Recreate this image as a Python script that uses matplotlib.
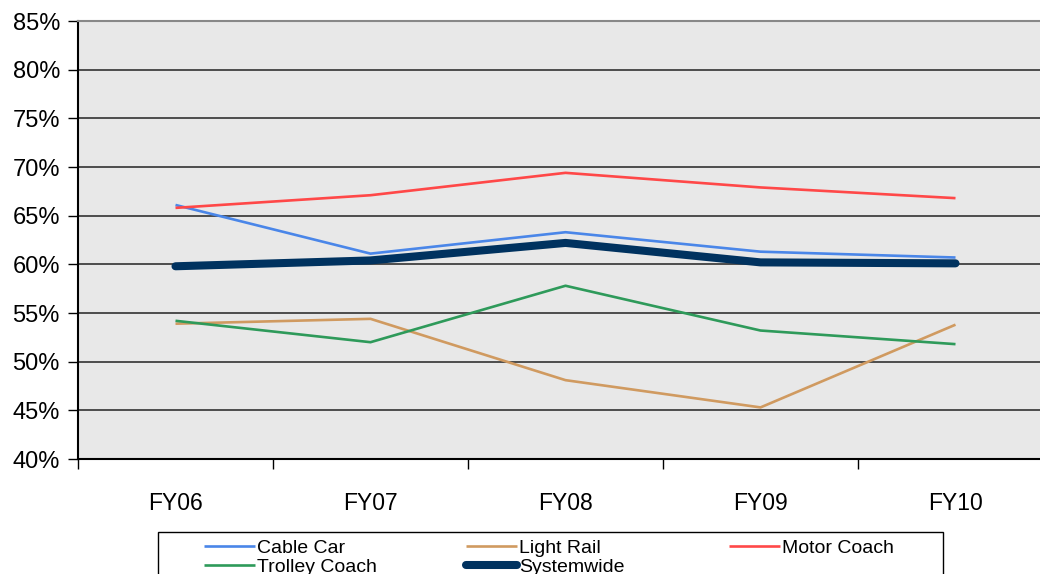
import matplotlib
matplotlib.use("Agg")
import matplotlib.pyplot as plt
from matplotlib import font_manager
from matplotlib.patches import Rectangle

categories = ["FY06", "FY07", "FY08", "FY09", "FY10"]
cable_car = [66.1, 61.1, 63.3, 61.3, 60.7]
light_rail = [53.9, 54.4, 48.1, 45.3, 53.8]
motor_coach = [65.8, 67.1, 69.4, 67.9, 66.8]
trolley_coach = [54.2, 52.0, 57.8, 53.2, 51.8]
systemwide = [59.8, 60.4, 62.2, 60.2, 60.1]
yticks = [40, 45, 50, 55, 60, 65, 70, 75, 80, 85]

names = {f.name for f in font_manager.fontManager.ttflist}
main_font = "Liberation Sans" if "Liberation Sans" in names else "DejaVu Sans"
leg_font = "Liberation Sans Narrow" if "Liberation Sans Narrow" in names else main_font
plt.rcParams["font.family"] = [main_font, "DejaVu Sans"]

fig = plt.figure(figsize=(10.4, 5.74), dpi=100)
ax = fig.add_axes([78/1040, 1-459/574, 975/1040, 438/574])
ax.set_facecolor("#E8E8E8")

x = list(range(len(categories)))
series = [
    ("Cable Car", cable_car, "#4A86E8", 1.9),
    ("Light Rail", light_rail, "#D09A60", 1.9),
    ("Motor Coach", motor_coach, "#FF4848", 1.9),
    ("Trolley Coach", trolley_coach, "#2E9A5A", 1.9),
    ("Systemwide", systemwide, "#00325F", 5.8),
]
handles = {}
for name, vals, col, lw in series:
    h, = ax.plot(x, vals, color=col, lw=lw, solid_capstyle="round" if lw > 3 else "butt",
                 solid_joinstyle="round", label=name, zorder=3)
    handles[name] = h

ax.set_xlim(-0.5, len(categories) - 0.5)
ax.set_ylim(40, 85)
ax.set_yticks(yticks)
ax.set_yticklabels([f"{v}%" for v in yticks], fontsize=17)
ax.yaxis.grid(True, color="#222222", lw=1.1)
ax.set_axisbelow(True)

ax.set_xticks(x)
ax.set_xticklabels(categories, fontsize=16.5)
ax.set_xticks([i - 0.5 for i in range(len(categories) + 1)], minor=True)
ax.tick_params(axis="x", which="major", length=0, pad=24)
ax.tick_params(axis="x", which="minor", length=7, width=1, color="black", direction="out")
ax.tick_params(axis="y", length=7, width=1, color="black", direction="out", pad=6)

ax.spines["left"].set_color("black")
ax.spines["left"].set_linewidth(1.5)
ax.spines["bottom"].set_color("black")
ax.spines["bottom"].set_linewidth(1.5)
ax.spines["top"].set_color("#888888")
ax.spines["top"].set_linewidth(1.5)
ax.spines["right"].set_visible(False)

# legend frame
fig.patches.append(Rectangle((158/1040, -0.05), 785/1040, 0.05 + 1 - 532/574,
                             transform=fig.transFigure, fill=False,
                             edgecolor="black", lw=1.0))
columns = [(["Cable Car", "Trolley Coach"], 204),
           (["Light Rail", "Systemwide"], 466),
           (["Motor Coach"], 729)]
for labels, xpx in columns:
    lg = fig.legend([handles[n] for n in labels], labels, loc="upper left",
                    bbox_to_anchor=(xpx/1040, 1-539/574), frameon=False,
                    prop={"family": leg_font, "size": 14}, handlelength=2.6,
                    handletextpad=0.15, labelspacing=0.1, borderpad=0,
                    borderaxespad=0)

fig.savefig("out.png", dpi=100)
